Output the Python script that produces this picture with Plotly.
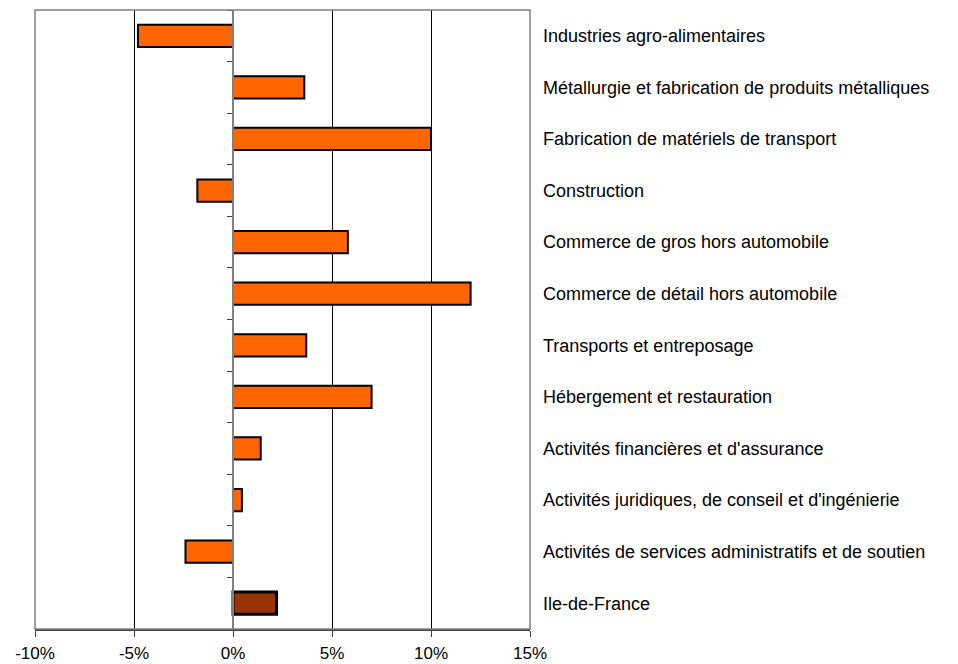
import plotly.graph_objects as go

categories = [
    "Industries agro-alimentaires",
    "Métallurgie et fabrication de produits métalliques",
    "Fabrication de matériels de transport",
    "Construction",
    "Commerce de gros hors automobile",
    "Commerce de détail hors automobile",
    "Transports et entreposage",
    "Hébergement et restauration",
    "Activités financières et d'assurance",
    "Activités juridiques, de conseil et d'ingénierie",
    "Activités de services administratifs et de soutien",
    "Ile-de-France",
]
values = [-4.8, 3.6, 10.0, -1.8, 5.8, 12.0, 3.7, 7.0, 1.4, 0.45, -2.4, 2.2]
bar_colors = ["#FF6600"] * 11 + ["#993300"]
line_widths = [2] * 11 + [3]
x_ticks = [-10, -5, 0, 5, 10, 15]
x_tick_labels = ["-10%", "-5%", "0%", "5%", "10%", "15%"]

fig = go.Figure()
# visible bars, on the axis anchored at zero
fig.add_trace(go.Bar(
    x=values, y=categories, orientation="h",
    marker=dict(color=bar_colors, line=dict(color="black", width=line_widths)),
    width=0.43, xaxis="x", yaxis="y2", hoverinfo="x+y",
))
# invisible helper trace carrying the category labels on the right
fig.add_trace(go.Scatter(
    x=values, y=categories, mode="markers", marker=dict(opacity=0),
    xaxis="x", yaxis="y", hoverinfo="skip", showlegend=False,
))

fig.update_layout(
    width=950, height=656,
    margin=dict(l=27, r=428, t=2, b=35),
    plot_bgcolor="white", paper_bgcolor="white",
    showlegend=False,
    font=dict(family="Liberation Sans, Arial, sans-serif", size=16, color="black"),
    xaxis=dict(
        range=[-10, 15], tickvals=x_ticks, ticktext=x_tick_labels,
        showgrid=True, gridcolor="black", gridwidth=1,
        zeroline=False, automargin=False,
        showline=True, linecolor="#404040", linewidth=1.5,
        ticks="outside", ticklen=6, tickcolor="#404040",
        ticklabelstandoff=2,
        tickfont=dict(size=17),
    ),
    yaxis=dict(
        type="category", categoryorder="array", categoryarray=categories,
        range=[11.5, -0.5], side="right", automargin=False,
        showgrid=False, zeroline=False, showline=False, ticks="",
        ticklabelstandoff=12, tickfont=dict(size=18),
    ),
    yaxis2=dict(
        type="category", categoryorder="array", categoryarray=categories,
        range=[11.5, -0.5], overlaying="y", anchor="free", position=0.4,
        side="left", showticklabels=False, showgrid=False, zeroline=False,
        automargin=False,
        showline=True, linecolor="#808080", linewidth=1.5,
        ticks="outside", tickson="boundaries", ticklen=5, tickcolor="#404040",
    ),
    shapes=[dict(type="rect", xref="paper", yref="paper", x0=0, x1=1, y0=0, y1=1,
                 line=dict(color="#808080", width=1.5), layer="above")],
)

fig.write_html("out.html")
